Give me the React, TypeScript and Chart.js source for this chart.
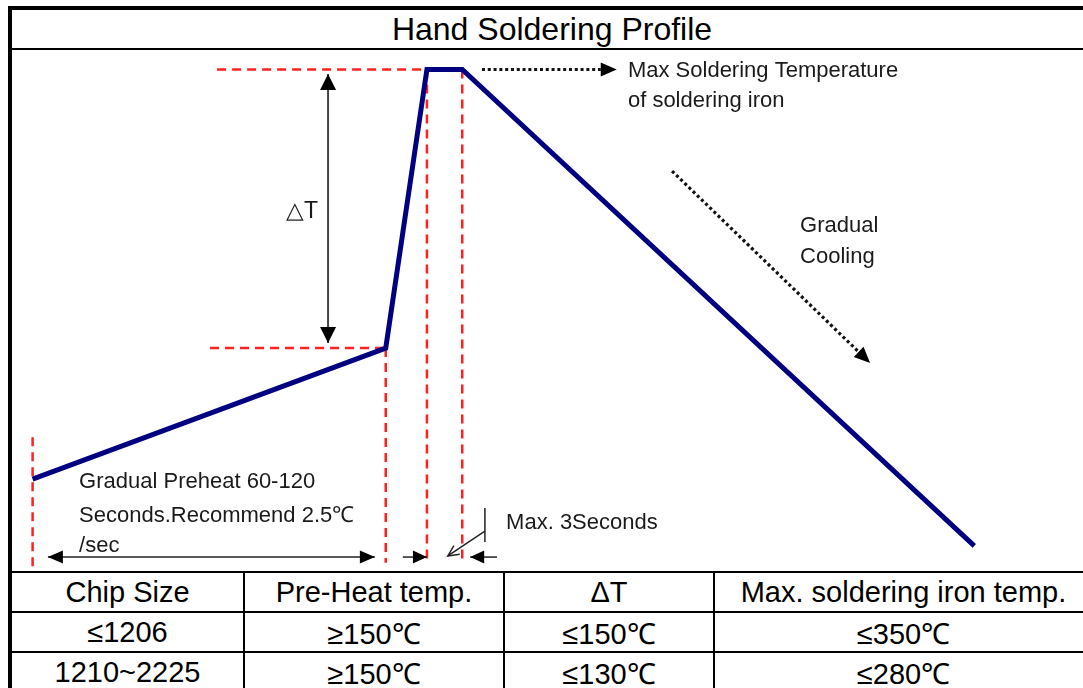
import React, { useEffect, useRef } from "react";
import { Chart, registerables } from "chart.js";

Chart.register(...registerables);

// ---- data (time in s, temperature in ℃, schematic) ----
const TITLE = "Hand Soldering Profile";
const profileTime = [0, 120, 134, 146, 320];
const profileTemp = [56, 150, 350, 350, 8];

// red dashed guide lines
const guideHTemp = [350, 150];
const guideHFrom = [62.7, 60.3];
const guideHTo = [134, 120];

const guideVTime = [0, 120, 134, 146];
const guideVTop = [86, 150, 350, 350];
const guideVBottom = [-9, -4, -4, -2];

// annotation arrows [x1, y1, x2, y2] in data units (tip at x2,y2)
const deltaArrow = [100.4, 153.7, 100.4, 346.8];
const preheatArrow = [5.2, 0, 116.3, 0];
const peakInArrow = [125.8, 0, 134, 0];
const peakOutArrow = [157.8, 0, 148.7, 0];
const holdTick = [153.7, 35.2, 153.7, 10.8];
const holdPointer = [153.7, 18.7, 141.1, 0.8];
const maxTempDots = [152.7, 350, 198.5, 350];
const coolingDots = [217.3, 277.1, 284.6, 139.3];

// annotation labels
const labelText = [
  "Max Soldering Temperature",
  "of soldering iron",
  "Gradual",
  "Cooling",
  "△T",
  "Gradual Preheat 60-120",
  "Seconds.Recommend 2.5℃",
  "/sec",
  "Max. 3Seconds",
];
const labelTime = [202.3, 202.3, 260.8, 260.8, 97, 15.8, 15.8, 15.8, 160.9];
const labelTemp = [349, 327.4, 237.7, 215.4, 247.7, 53.9, 29.5, 8.0, 24.4];
const labelAlign: CanvasTextAlign[] = ["left", "left", "left", "left", "right", "left", "left", "left", "left"];

// table
const tableHeader = ["Chip Size", "Pre-Heat temp.", "ΔT", "Max. soldering iron temp."];
const tableRow1 = ["≤1206", "≥150℃", "≤150℃", "≤350℃"];
const tableRow2 = ["1210~2225", "≥150℃", "≤130℃", "≤280℃"];

const X_MIN = -7;
const X_MAX = 360;
const Y_MIN = -10;
const Y_MAX = 364;

const FONT = '"Liberation Sans", Arial, sans-serif';

function head(ctx: CanvasRenderingContext2D, x1: number, y1: number, x2: number, y2: number, len: number, half: number) {
  const a = Math.atan2(y2 - y1, x2 - x1);
  const bx = x2 - len * Math.cos(a);
  const by = y2 - len * Math.sin(a);
  const px = -Math.sin(a) * half;
  const py = Math.cos(a) * half;
  ctx.beginPath();
  ctx.moveTo(x2, y2);
  ctx.lineTo(bx + px, by + py);
  ctx.lineTo(bx - px, by - py);
  ctx.closePath();
  ctx.fill();
}

const annotationPlugin = {
  id: "profileAnnotations",
  afterDatasetsDraw(chart: any) {
    const ctx: CanvasRenderingContext2D = chart.ctx;
    const xs = chart.scales.x;
    const ys = chart.scales.y;
    const P = (a: number[]) => [
      xs.getPixelForValue(a[0]),
      ys.getPixelForValue(a[1]),
      xs.getPixelForValue(a[2]),
      ys.getPixelForValue(a[3]),
    ];
    ctx.save();

    const solid = (arr: number[], color: string, w: number, startHead: boolean, endHead: boolean, len: number, half: number) => {
      const [x1, y1, x2, y2] = P(arr);
      ctx.strokeStyle = color;
      ctx.fillStyle = "#000";
      ctx.lineWidth = w;
      ctx.setLineDash([]);
      ctx.beginPath();
      ctx.moveTo(x1, y1);
      ctx.lineTo(x2, y2);
      ctx.stroke();
      if (endHead) head(ctx, x1, y1, x2, y2, len, half);
      if (startHead) head(ctx, x2, y2, x1, y1, len, half);
    };

    solid(deltaArrow, "#444", 2, true, true, 16, 8);
    solid(preheatArrow, "#222", 1.5, true, true, 15, 6.5);
    solid(peakInArrow, "#222", 1.5, false, true, 14, 6.5);
    solid(peakOutArrow, "#222", 1.5, false, true, 14, 6.5);
    solid(holdTick, "#222", 1.5, false, false, 0, 0);

    // open arrow pointer
    {
      const [x1, y1, x2, y2] = P(holdPointer);
      ctx.strokeStyle = "#222";
      ctx.lineWidth = 1.5;
      ctx.beginPath();
      ctx.moveTo(x1, y1);
      ctx.lineTo(x2, y2);
      ctx.stroke();
      const a = Math.atan2(y2 - y1, x2 - x1);
      const l = 12;
      ctx.beginPath();
      ctx.moveTo(x2 - l * Math.cos(a - 0.45), y2 - l * Math.sin(a - 0.45));
      ctx.lineTo(x2, y2);
      ctx.lineTo(x2 - l * Math.cos(a + 0.45), y2 - l * Math.sin(a + 0.45));
      ctx.stroke();
    }

    // dotted arrows
    const dotted = (arr: number[]) => {
      const [x1, y1, x2, y2] = P(arr);
      const a = Math.atan2(y2 - y1, x2 - x1);
      const len = 16;
      ctx.strokeStyle = "#111";
      ctx.lineWidth = 3.2;
      ctx.setLineDash([3, 2.8]);
      ctx.beginPath();
      ctx.moveTo(x1, y1);
      ctx.lineTo(x2 - len * Math.cos(a), y2 - len * Math.sin(a));
      ctx.stroke();
      ctx.setLineDash([]);
      ctx.fillStyle = "#000";
      head(ctx, x1, y1, x2, y2, len, 7);
    };
    dotted(maxTempDots);
    dotted(coolingDots);

    // labels
    ctx.fillStyle = "#1a1a1a";
    ctx.textBaseline = "middle";
    labelText.forEach((t, i) => {
      ctx.font = `${i === 4 ? 23 : 22}px ${FONT}`;
      ctx.textAlign = labelAlign[i];
      ctx.fillText(t, xs.getPixelForValue(labelTime[i]), ys.getPixelForValue(labelTemp[i]));
    });
    ctx.restore();
  },
};

export default function App() {
  const ref = useRef<HTMLCanvasElement | null>(null);

  useEffect(() => {
    document.documentElement.style.overflow = "hidden";
    document.body.style.margin = "0";
    document.body.style.overflow = "hidden";
    document.body.style.background = "#fff";
    if (!ref.current) return;

    const datasets: any[] = [];
    datasets.push({
      label: "Profile",
      data: profileTime.map((t, i) => ({ x: t, y: profileTemp[i] })),
      showLine: true,
      borderColor: "#000080",
      backgroundColor: "#000080",
      borderWidth: 5,
      pointRadius: 0,
      borderJoinStyle: "miter",
    });
    guideHTemp.forEach((temp, i) => {
      datasets.push({
        label: "guideH" + i,
        data: [
          { x: guideHFrom[i], y: temp },
          { x: guideHTo[i], y: temp },
        ],
        showLine: true,
        borderColor: "#ff2020",
        borderWidth: 2.5,
        borderDash: [9, 6],
        pointRadius: 0,
      });
    });
    guideVTime.forEach((t, i) => {
      datasets.push({
        label: "guideV" + i,
        data: [
          { x: t, y: guideVTop[i] },
          { x: t, y: guideVBottom[i] },
        ],
        showLine: true,
        borderColor: "#ff2020",
        borderWidth: 2.5,
        borderDash: [9, 6],
        pointRadius: 0,
      });
    });

    const chart = new Chart(ref.current, {
      type: "scatter",
      data: { datasets },
      options: {
        animation: false,
        responsive: false,
        devicePixelRatio: 1,
        events: [],
        layout: { padding: 0 },
        plugins: {
          legend: { display: false },
          tooltip: { enabled: false },
          title: { display: false },
        },
        scales: {
          x: { type: "linear", min: X_MIN, max: X_MAX, display: false },
          y: { type: "linear", min: Y_MIN, max: Y_MAX, display: false },
        },
      },
      plugins: [annotationPlugin],
    });
    return () => chart.destroy();
  }, []);

  const cell = (text: string, key: string, last: boolean) => (
    <div
      key={key}
      style={{
        boxSizing: "border-box",
        height: 40,
        borderTop: "2px solid #000",
        borderRight: last ? "none" : "2px solid #000",
        display: "flex",
        alignItems: "center",
        justifyContent: "center",
        fontSize: 29,
        color: "#000",
        whiteSpace: "nowrap",
      }}
    >
      {text}
    </div>
  );

  return (
    <div
      style={{
        position: "absolute",
        left: 8,
        top: 6,
        width: 1080,
        borderTop: "4px solid #000",
        borderLeft: "4px solid #000",
        background: "#fff",
        fontFamily: FONT,
      }}
    >
      <div
        style={{
          height: 38,
          borderBottom: "2px solid #000",
          display: "flex",
          alignItems: "center",
          justifyContent: "center",
          fontSize: 32,
          color: "#000",
        }}
      >
        {TITLE}
      </div>
      <canvas ref={ref} width={1080} height={521} style={{ display: "block", width: 1080, height: 521 }} />
      <div style={{ display: "grid", gridTemplateColumns: "233px 260px 210px 377px" }}>
        {tableHeader.map((t, i) => cell(t, "h" + i, i === 3))}
        {tableRow1.map((t, i) => cell(t, "a" + i, i === 3))}
        {tableRow2.map((t, i) => cell(t, "b" + i, i === 3))}
      </div>
    </div>
  );
}
